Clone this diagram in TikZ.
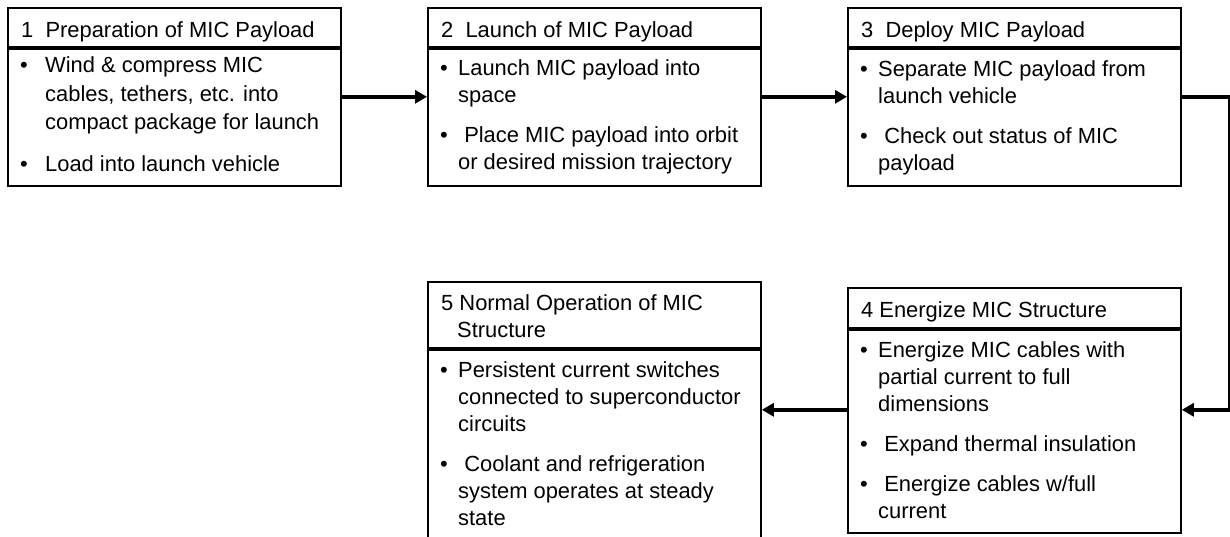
\documentclass[tikz,border=0pt]{standalone}
\usepackage{fontspec}
\setmainfont{Liberation Sans}
\usetikzlibrary{arrows.meta,calc}
\newcommand{\bul}[1][18pt]{\makebox[#1][l]{\textbullet}}
\newcommand{\ind}[1][18pt]{\hspace*{#1}}
\newcommand{\bodytext}[2][27pt]{\parbox[t]{320pt}{\fontsize{21.9}{#1}\selectfont\raggedright #2}}
\begin{document}
\begin{tikzpicture}[x=1pt,y=-1pt,
  box/.style={draw, line width=1.8pt, inner sep=0pt, anchor=north west, minimum width=333pt},
  txt/.style={anchor=base west, inner sep=0pt, font=\fontsize{21.9}{27}\selectfont},
  conn/.style={line width=4pt, -{Triangle[length=12pt,width=13pt]}}]
\path[use as bounding box, fill=white] (0,0) rectangle (1230,536);
\clip (0,0) rectangle (1230,536);
% box 1
\node[box, minimum height=39pt] (h1) at (7,7) {};
\node[box, minimum height=137pt] (b1) at (h1.south west) {};
% box 2
\node[box, minimum height=39pt] (h2) at (427,7) {};
\node[box, minimum height=137pt] (b2) at (h2.south west) {};
% box 3
\node[box, minimum height=39pt] (h3) at (847,7) {};
\node[box, minimum height=137pt] (b3) at (h3.south west) {};
% box 4
\node[box, minimum height=40pt] (h4) at (847,287) {};
\node[box, minimum height=203pt] (b4) at (h4.south west) {};
% box 5
\node[box, minimum height=66pt] (h5) at (427,281) {};
\node[box, minimum height=210pt] (b5) at (h5.south west) {};
% header texts
\node[txt] (t1h) at ($(h1.north west)+(14,30)$) {1\ \ Preparation of MIC Payload};
\node[txt] (t2h) at ($(h2.north west)+(14,30)$) {2\ \ Launch of MIC Payload};
\node[txt] (t3h) at ($(h3.north west)+(14,30)$) {3\ \ Deploy MIC Payload};
\node[txt] (t4h) at ($(h4.north west)+(14,30)$) {4 Energize MIC Structure};
\node[txt] (t5h) at ($(h5.north west)+(14,29)$) {\bodytext{5 Normal Operation of MIC\\\ind[16pt]Structure}};
% body texts
\node[txt] (t1b) at ($(b1.north west)+(13,25)$) {\bodytext[28.5pt]{\bul[25pt]Wind \& compress MIC\\\ind[25pt]cables, tethers, etc. into\\\ind[25pt]compact package for launch\\[13pt]\bul[25pt]Load into launch vehicle}};
\node[txt] (t2b) at ($(b2.north west)+(13,28)$) {\bodytext{\bul Launch MIC payload into\\\ind space\\[13pt]\bul\ Place MIC payload into orbit\\\ind or desired mission trajectory}};
\node[txt] (t3b) at ($(b3.north west)+(13,29)$) {\bodytext{\bul Separate MIC payload from\\\ind launch vehicle\\[13pt]\bul\ Check out status of MIC\\\ind payload}};
\node[txt] (t4b) at ($(b4.north west)+(13,29)$) {\bodytext{\bul Energize MIC cables with\\\ind partial current to full\\\ind dimensions\\[13pt]\bul\ Expand thermal insulation\\[13pt]\bul\ Energize cables w/full\\\ind current}};
\node[txt] (t5b) at ($(b5.north west)+(13,29)$) {\bodytext{\bul Persistent current switches\\\ind connected to superconductor\\\ind circuits\\[13pt]\bul\ Coolant and refrigeration\\\ind system operates at steady\\\ind state}};
% connectors
\draw[conn] ([yshift=-49pt]b1.north east) -- ([yshift=-49pt]b2.north west);
\draw[conn] ([yshift=-49pt]b2.north east) -- ([yshift=-49pt]b3.north west);
\draw[conn] ([yshift=-49pt]b3.north east) -- ++(48,0) |- ([yshift=-81pt]b4.north east);
\draw[conn] ([yshift=-81pt]b4.north west) -- ([yshift=-81pt]b4.north west -| b5.east);
\end{tikzpicture}
\end{document}
